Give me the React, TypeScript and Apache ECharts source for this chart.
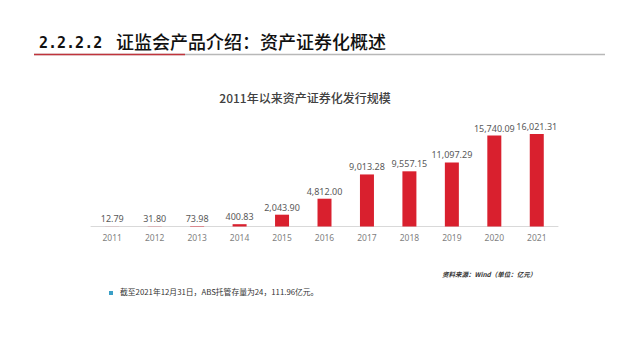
import React, { useEffect, useRef } from "react";
import * as echarts from "echarts";

const years = ["2011", "2012", "2013", "2014", "2015", "2016", "2017", "2018", "2019", "2020", "2021"];
const issuance = [12.79, 31.8, 73.98, 400.83, 2043.9, 4812.0, 9013.28, 9557.15, 11097.29, 15740.09, 16021.31];

const pageNumber = "2.2.2.2";
const pageTitle = "证监会产品介绍：资产证券化概述";
const chartTitle = "2011年以来资产证券化发行规模";
const sourceNote = "资料来源：Wind（单位：亿元）";
const bulletNote = "截至2021年12月31日，ABS托管存量为24，111.96亿元。";

const fmt = (v: number) =>
  v.toLocaleString("en-US", { minimumFractionDigits: 2, maximumFractionDigits: 2 });

export default function App() {
  const ref = useRef<HTMLDivElement>(null);
  useEffect(() => {
    if (!ref.current) return;
    const chart = echarts.init(ref.current, undefined, { renderer: "svg" });
    chart.setOption({
      animation: false,
      backgroundColor: "#ffffff",
      title: {
        text: chartTitle,
        left: 300,
        textAlign: "center",
        top: 86,
        textStyle: {
          fontFamily: "Noto Sans CJK SC",
          fontSize: 12,
          fontWeight: 500,
          color: "#404040",
        },
      },
      grid: { left: 91, right: 82, top: 111, bottom: 133.5 },
      xAxis: {
        type: "category",
        data: years,
        axisLine: { lineStyle: { color: "#d9d9d9", width: 1 } },
        axisTick: { show: false },
        axisLabel: {
          color: "#7f7f7f",
          fontSize: 8.5,
          fontFamily: "Noto Sans",
          margin: 6,
        },
      },
      yAxis: {
        type: "value",
        min: 0,
        max: 20000,
        show: false,
        splitLine: { show: false },
      },
      series: [
        {
          type: "bar",
          data: issuance,
          barWidth: 14,
          itemStyle: { color: "#d9202e" },
          label: {
            show: true,
            position: "top",
            distance: 3,
            color: "#595959",
            fontSize: 9,
            fontFamily: "Noto Sans",
            formatter: (p: any) => fmt(p.value),
          },
        },
      ],
      graphic: [
        {
          type: "text",
          left: 39,
          top: 35,
          style: {
            text: pageNumber,
            fontFamily: "DejaVu Sans Mono",
            fontSize: 15,
            fontWeight: "bold",
            fill: "#111111",
          },
        },
        {
          type: "text",
          left: 116,
          top: 32,
          style: {
            text: pageTitle,
            fontFamily: "Noto Sans CJK SC",
            fontSize: 18,
            fontWeight: 500,
            fill: "#111111",
          },
        },
        {
          type: "line",
          shape: { x1: 34, y1: 54.5, x2: 605, y2: 54.5 },
          style: { stroke: "#b8b8b8", lineWidth: 1.5 },
        },
        {
          type: "line",
          shape: { x1: 34, y1: 54.5, x2: 185, y2: 54.5 },
          style: { stroke: "#c0343c", lineWidth: 1.5 },
        },
        {
          type: "text",
          left: 442,
          top: 271,
          style: {
            text: sourceNote,
            fontFamily: "Noto Sans CJK SC",
            fontSize: 6.5,
            fontWeight: "bold",
            fontStyle: "italic",
            fill: "#333333",
          },
        },
        {
          type: "rect",
          shape: { x: 109, y: 291, width: 4, height: 4 },
          style: { fill: "#3a9fc6" },
        },
        {
          type: "text",
          left: 120,
          top: 288,
          style: {
            text: bulletNote,
            fontFamily: "Noto Sans CJK SC",
            fontSize: 7.8,
            fill: "#333333",
          },
        },
      ],
    });
    return () => chart.dispose();
  }, []);
  return <div ref={ref} style={{ width: 640, height: 360, position: "absolute", left: 0, top: 0 }} />;
}
